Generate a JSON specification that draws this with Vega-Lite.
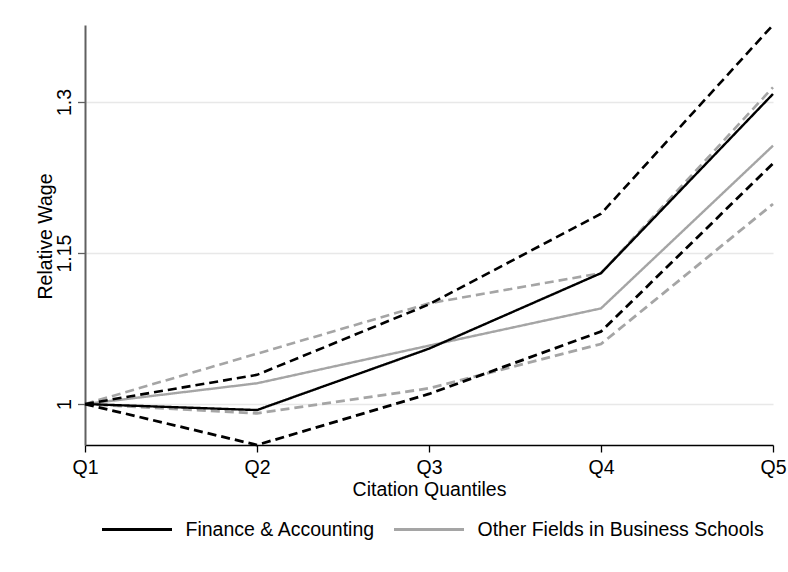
{
  "$schema": "https://vega.github.io/schema/vega-lite/v6.json",
  "width": 688,
  "height": 420,
  "autosize": {"type": "none"},
  "padding": {"left": 85, "top": 25, "right": 15, "bottom": 127},
  "background": "white",
  "config": {"view": {"stroke": null}, "font": "Liberation Sans"},
  "data": {
    "values": [
      {"quantile": "Q1", "series": "Other Fields in Business Schools", "band": "estimate", "value": 1.0},
      {"quantile": "Q2", "series": "Other Fields in Business Schools", "band": "estimate", "value": 1.0206},
      {"quantile": "Q3", "series": "Other Fields in Business Schools", "band": "estimate", "value": 1.058},
      {"quantile": "Q4", "series": "Other Fields in Business Schools", "band": "estimate", "value": 1.095},
      {"quantile": "Q5", "series": "Other Fields in Business Schools", "band": "estimate", "value": 1.2566},
      {"quantile": "Q1", "series": "Other Fields in Business Schools", "band": "upper", "value": 1.0},
      {"quantile": "Q2", "series": "Other Fields in Business Schools", "band": "upper", "value": 1.050},
      {"quantile": "Q3", "series": "Other Fields in Business Schools", "band": "upper", "value": 1.100},
      {"quantile": "Q4", "series": "Other Fields in Business Schools", "band": "upper", "value": 1.130},
      {"quantile": "Q5", "series": "Other Fields in Business Schools", "band": "upper", "value": 1.3146},
      {"quantile": "Q1", "series": "Other Fields in Business Schools", "band": "lower", "value": 1.0},
      {"quantile": "Q2", "series": "Other Fields in Business Schools", "band": "lower", "value": 0.9907},
      {"quantile": "Q3", "series": "Other Fields in Business Schools", "band": "lower", "value": 1.0156},
      {"quantile": "Q4", "series": "Other Fields in Business Schools", "band": "lower", "value": 1.0596},
      {"quantile": "Q5", "series": "Other Fields in Business Schools", "band": "lower", "value": 1.1987},
      {"quantile": "Q1", "series": "Finance & Accounting", "band": "estimate", "value": 1.0},
      {"quantile": "Q2", "series": "Finance & Accounting", "band": "estimate", "value": 0.994},
      {"quantile": "Q3", "series": "Finance & Accounting", "band": "estimate", "value": 1.055},
      {"quantile": "Q4", "series": "Finance & Accounting", "band": "estimate", "value": 1.130},
      {"quantile": "Q5", "series": "Finance & Accounting", "band": "estimate", "value": 1.308},
      {"quantile": "Q1", "series": "Finance & Accounting", "band": "upper", "value": 1.0},
      {"quantile": "Q2", "series": "Finance & Accounting", "band": "upper", "value": 1.029},
      {"quantile": "Q3", "series": "Finance & Accounting", "band": "upper", "value": 1.099},
      {"quantile": "Q4", "series": "Finance & Accounting", "band": "upper", "value": 1.189},
      {"quantile": "Q5", "series": "Finance & Accounting", "band": "upper", "value": 1.3765},
      {"quantile": "Q1", "series": "Finance & Accounting", "band": "lower", "value": 1.0},
      {"quantile": "Q2", "series": "Finance & Accounting", "band": "lower", "value": 0.9593},
      {"quantile": "Q3", "series": "Finance & Accounting", "band": "lower", "value": 1.010},
      {"quantile": "Q4", "series": "Finance & Accounting", "band": "lower", "value": 1.072},
      {"quantile": "Q5", "series": "Finance & Accounting", "band": "lower", "value": 1.239}
    ]
  },
  "mark": {"type": "line", "strokeCap": "butt", "strokeJoin": "miter"},
  "encoding": {
    "x": {
      "field": "quantile",
      "type": "ordinal",
      "scale": {"type": "point", "padding": 0},
      "axis": {
        "title": "Citation Quantiles",
        "titleFont": "Liberation Sans",
        "titleFontSize": 19.5,
        "titleFontWeight": "normal",
        "titleColor": "#000000",
        "titleBaseline": "alphabetic",
        "titleY": 50,
        "labelFont": "Liberation Sans",
        "labelFontSize": 19.5,
        "labelColor": "#000000",
        "labelAngle": 0,
        "labelBaseline": "alphabetic",
        "labelPadding": 21,
        "labelOverlap": false,
        "labelBound": false,
        "tickSize": 7,
        "tickColor": "#000000",
        "tickWidth": 1.3,
        "domainColor": "#000000",
        "domainWidth": 1.5,
        "grid": false
      }
    },
    "y": {
      "field": "value",
      "type": "quantitative",
      "scale": {"domain": [0.9593, 1.3765], "zero": false, "nice": false},
      "axis": {
        "title": "Relative Wage",
        "titleFont": "Liberation Sans",
        "titleFontSize": 19.5,
        "titleFontWeight": "normal",
        "titleColor": "#000000",
        "titleAngle": 270,
        "titleAlign": "center",
        "titleBaseline": "alphabetic",
        "titleX": -34,
        "titleY": 211,
        "values": [1, 1.15, 1.3],
        "format": ".3~g",
        "labelFont": "Liberation Sans",
        "labelFontSize": 19.5,
        "labelColor": "#000000",
        "labelAngle": 270,
        "labelAlign": "center",
        "labelBaseline": "alphabetic",
        "labelPadding": 7,
        "labelOverlap": false,
        "labelBound": false,
        "tickSize": 7.5,
        "tickColor": "#606060",
        "tickWidth": 1.3,
        "domainColor": "#606060",
        "domainWidth": 2,
        "grid": true,
        "gridColor": "#e8e8e8",
        "gridWidth": 1.5
      }
    },
    "color": {
      "field": "series",
      "type": "nominal",
      "scale": {
        "domain": ["Finance & Accounting", "Other Fields in Business Schools"],
        "range": ["#000000", "#a5a5a5"]
      },
      "legend": {
        "orient": "none",
        "legendX": 15.5,
        "legendY": 468,
        "direction": "horizontal",
        "title": null,
        "symbolType": "stroke",
        "symbolSize": 4900,
        "symbolStrokeWidth": 3,
        "labelFont": "Liberation Sans",
        "labelFontSize": 19.5,
        "labelColor": "#000000",
        "labelOffset": 12,
        "labelLimit": 500,
        "columnPadding": 12
      }
    },
    "strokeDash": {
      "field": "band",
      "type": "nominal",
      "scale": {"domain": ["estimate", "upper", "lower"], "range": [[1, 0], [9, 5], [9, 5]]},
      "legend": null
    },
    "strokeWidth": {
      "field": "band",
      "type": "ordinal",
      "scale": {"domain": ["estimate", "upper", "lower"], "range": [2.4, 2.8, 2.8]},
      "legend": null
    }
  }
}
